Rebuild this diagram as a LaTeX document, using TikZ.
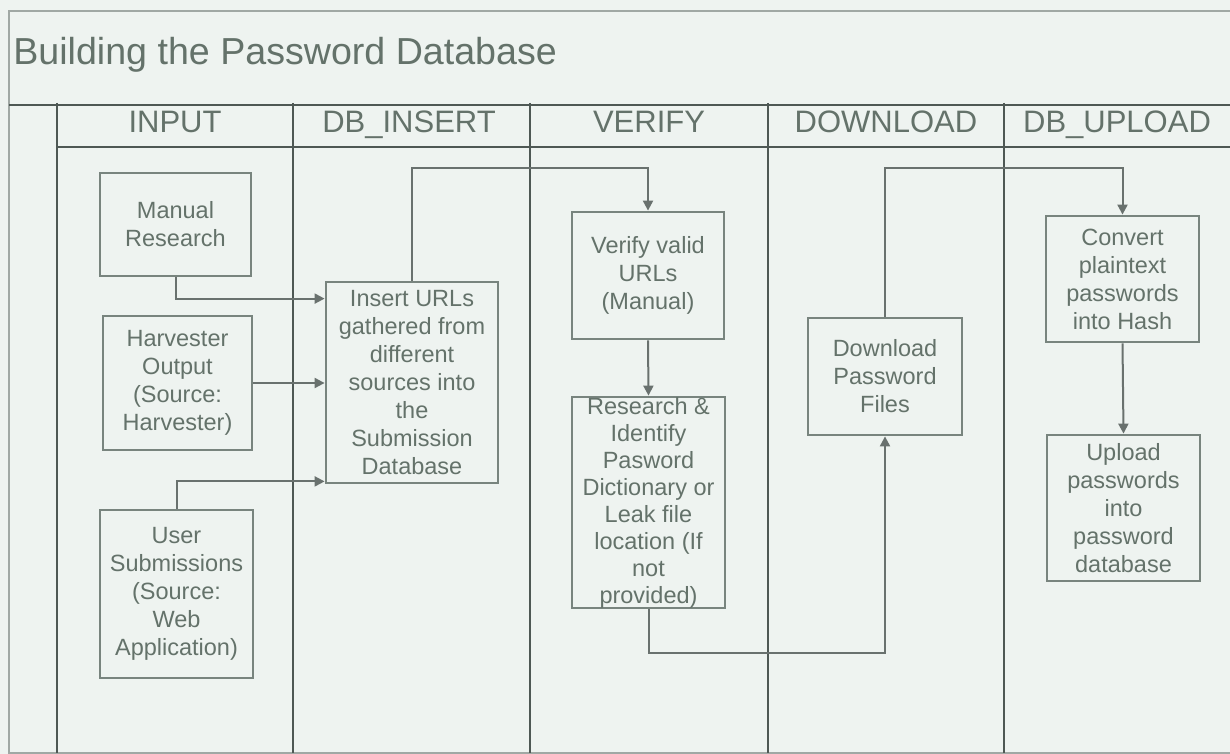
\documentclass[tikz,border=0pt]{standalone}
\usepackage{fontspec}
\setmainfont{Liberation Sans}
\usetikzlibrary{arrows.meta}

\definecolor{paper}{RGB}{238,243,240}
\definecolor{lane}{RGB}{78,88,84}
\definecolor{rim}{RGB}{160,168,164}
\definecolor{boxline}{RGB}{120,132,126}
\definecolor{ink}{RGB}{100,114,106}

\tikzset{
  proc/.style={draw=boxline, line width=1.4pt, fill=paper, text=ink, align=center,
               inner sep=0pt, font=\fontsize{11.75}{14}\selectfont},
  flow/.style={draw=lane!85, line width=1pt, -{Triangle[length=5pt,width=5pt]}},
  head/.style={text=ink, anchor=base, font=\fontsize{15.5}{17}\selectfont},
  lanerule/.style={draw=lane, line width=1.3pt},
}

\begin{document}
\begin{tikzpicture}[x=0.5pt,y=-0.5pt]
\fill[paper] (0,0) rectangle (1230,754);
\useasboundingbox (0,0) rectangle (1230,754);

% frame
\draw[rim, line width=1pt] (1230,11) -- (9,11) -- (9,753) -- (1230,753);
\draw[lanerule] (9,105) -- (1230,105);
\draw[lanerule] (57,147) -- (1230,147);
\foreach \x in {57,293,530,768,1004}
  \draw[lanerule] (\x,103) -- (\x,753);

\node[text=ink, anchor=base west, inner sep=0pt, font=\fontsize{18.8}{22}\selectfont] (title) at (13,65)
     {Building the Password Database};

% lane heads
\node[head] (hinput)  at (175,133)  {INPUT};
\node[head] (hinsert) at (409,133)  {DB\_INSERT};
\node[head] (hverify) at (649,133)  {VERIFY};
\node[head] (hdown)   at (886,133)  {DOWNLOAD};
\node[head] (hupload) at (1117,133) {DB\_UPLOAD};

% steps
\node[proc, minimum width=75.5pt, minimum height=51.5pt] (manual) at (175.5,224.5)
     {Manual\\Research};
\node[proc, minimum width=74.5pt, minimum height=67pt] (harvester) at (177.5,383)
     {Harvester\\Output\\(Source:\\Harvester)};
\node[proc, minimum width=76.5pt, minimum height=84pt] (user) at (176.5,594)
     {User\\Submissions\\(Source:\\Web\\Application)};
\node[proc, minimum width=86pt, minimum height=100.5pt] (insert) at (412,382.5)
     {Insert URLs\\gathered from\\different\\sources into\\the\\Submission\\Database};
\node[proc, minimum width=76pt, minimum height=63.5pt] (verify) at (648,275.5)
     {Verify valid\\URLs\\(Manual)};
\node[proc, minimum width=76.5pt, minimum height=105.5pt,
      font=\fontsize{11.75}{13.5}\selectfont] (research) at (648.5,502.5)
     {Research \&\\Identify\\Pasword\\Dictionary or\\Leak file\\location (If\\not\\provided)};
\node[proc, minimum width=77pt, minimum height=58.5pt] (download) at (885,376.5)
     {Download\\Password\\Files};
\node[proc, minimum width=76.5pt, minimum height=63pt] (convert) at (1122.5,279)
     {Convert\\plaintext\\passwords\\into Hash};
\node[proc, minimum width=76.5pt, minimum height=73pt] (upload) at (1123.5,508)
     {Upload\\passwords\\into\\password\\database};

\coordinate (ridge) at (0,168);
\coordinate (floor) at (0,653);

% flows
\draw[flow] (manual.south) |- ([yshift=-9pt]insert.north west);
\draw[flow] (harvester.east) -- (harvester.east -| insert.west);
\draw[flow] (user.north) |- ([yshift=1.5pt]insert.south west);
\draw[flow] (insert.north) -- (insert.north |- ridge) -| (verify.north);
\draw[flow] (verify.south) -- (research.north);
\draw[flow] (research.south) -- (research.south |- floor) -| (download.south);
\draw[flow] (download.north) -- (download.north |- ridge) -| (convert.north);
\draw[flow] (convert.south) -- (upload.north);

\end{tikzpicture}
\end{document}
